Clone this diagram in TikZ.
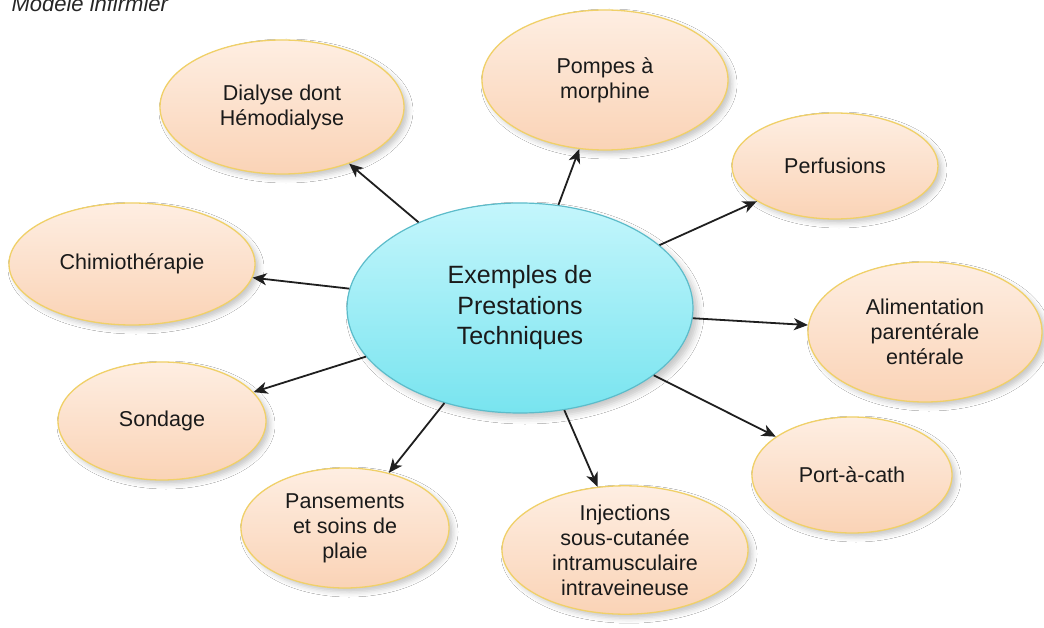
\documentclass[tikz,border=0pt]{standalone}
\usepackage{fontspec}
\setmainfont{Liberation Sans}
\usetikzlibrary{shapes.geometric,arrows.meta,shadows.blur}
\definecolor{peachA}{HTML}{FEEEE2}
\definecolor{peachB}{HTML}{FAD3B6}
\definecolor{goldline}{HTML}{F0D068}
\definecolor{cyanA}{HTML}{C4F6FC}
\definecolor{cyanB}{HTML}{78E4EF}
\definecolor{tealline}{HTML}{5CBCCA}
\definecolor{inktext}{HTML}{1A1A1A}
\begin{document}
\begin{tikzpicture}[x=1pt,y=-1pt,
  leaf/.style={ellipse, draw=goldline, line width=1.3pt, top color=peachA, bottom color=peachB,
    align=center, inner sep=0pt, text=inktext, font=\fontsize{21.5}{25}\selectfont,
    blur shadow={shadow xshift=4pt, shadow yshift=-4pt, shadow blur radius=5pt, shadow opacity=22}},
  hub/.style={ellipse, draw=tealline, line width=1.2pt, top color=cyanA, bottom color=cyanB,
    align=center, inner sep=0pt, text=inktext, font=\fontsize{25}{30.5}\selectfont,
    blur shadow={shadow xshift=5pt, shadow yshift=-5pt, shadow blur radius=6pt, shadow opacity=22}},
  link/.style={-{Stealth[length=14pt,width=12pt,inset=4pt]}, line width=1.8pt, black!88}]
\useasboundingbox (0,0) rectangle (1044,628);
\clip (0,0) rectangle (1044,628);
\fill[white] (0,0) rectangle (1044,628);
\node[anchor=base west, font=\itshape\fontsize{22}{26}\selectfont, text=black!85] (title) at (8,12) {Modèle infirmier};

\node[hub, minimum width=346pt, minimum height=210pt] (hub) at (520,308) {Exemples de\\Prestations\\Techniques};

\node[leaf, minimum width=244pt, minimum height=134pt] (dia) at (282,107) {Dialyse dont\\Hémodialyse};
\node[leaf, minimum width=246pt, minimum height=140pt] (pom) at (605,80) {Pompes à\\morphine};
\node[leaf, minimum width=206pt, minimum height=106pt] (per) at (835,166) {Perfusions};
\node[leaf, minimum width=246pt, minimum height=122pt] (chi) at (132,264) {Chimiothérapie};
\node[leaf, minimum width=234pt, minimum height=140pt] (ali) at (925,332) {Alimentation\\parentérale\\entérale};
\node[leaf, minimum width=208pt, minimum height=118pt] (son) at (162,421) {Sondage};
\node[leaf, minimum width=208pt, minimum height=120pt] (pan) at (345,528) {Pansements\\et soins de\\plaie};
\node[leaf, minimum width=246pt, minimum height=126pt] (inj) at (625,550) {Injections\\sous-cutanée\\intramusculaire\\intraveineuse};
\node[leaf, minimum width=200pt, minimum height=116pt] (por) at (852,475) {Port-à-cath};

\draw[link] (hub) -- (dia);
\draw[link] (hub) -- (pom);
\draw[link] (hub) -- (per);
\draw[link] (hub) -- (chi);
\draw[link] (hub) -- (ali);
\draw[link] (hub) -- (son);
\draw[link] (hub) -- (pan);
\draw[link] (hub) -- (inj);
\draw[link] (hub) -- (por);
\end{tikzpicture}
\end{document}
